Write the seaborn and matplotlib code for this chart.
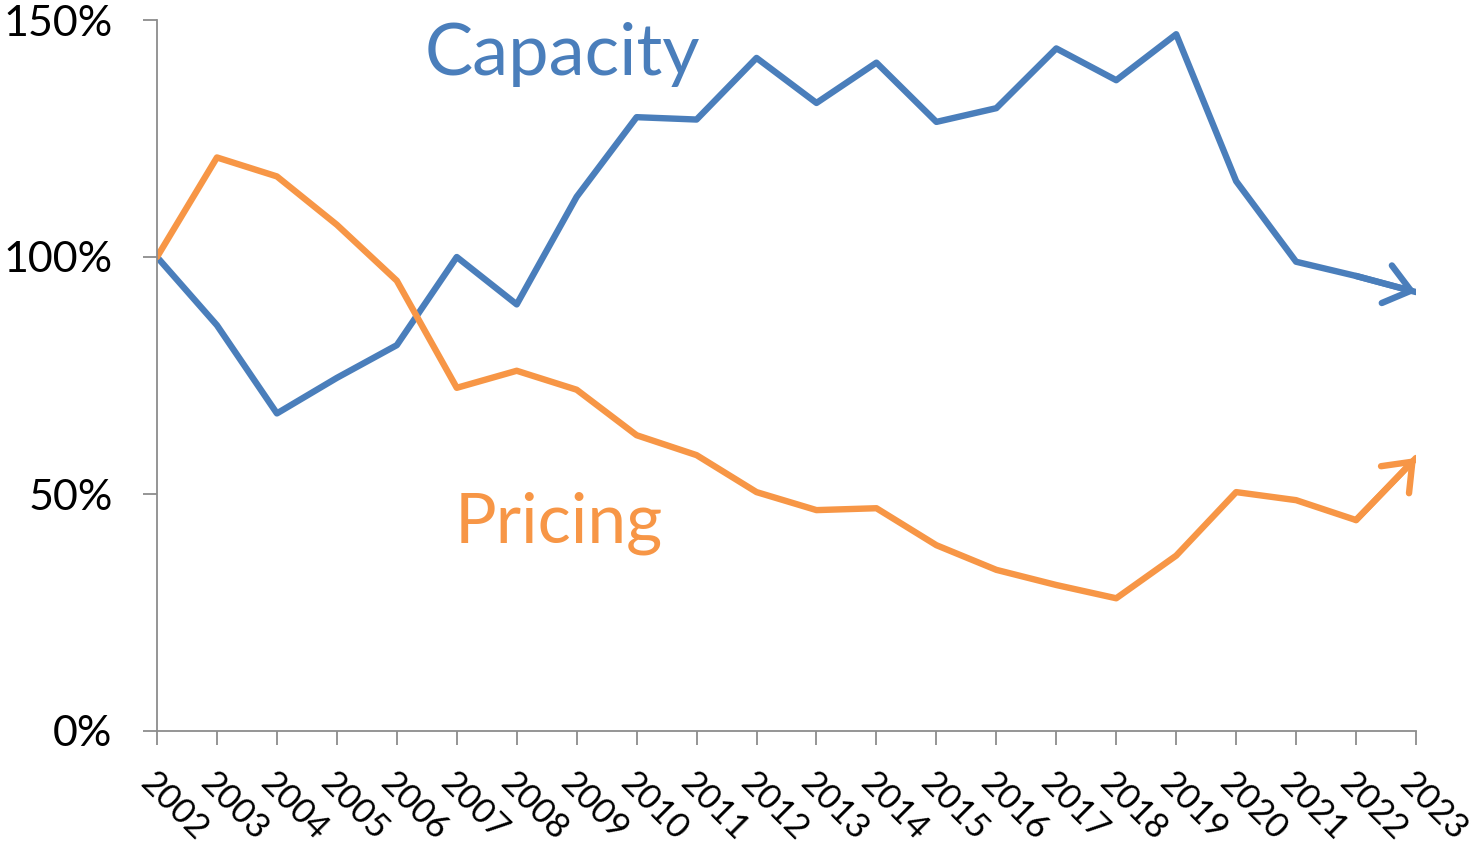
import matplotlib
matplotlib.use("Agg")
import matplotlib.pyplot as plt
import seaborn as sns
import pandas as pd

years = list(range(2002, 2024))
capacity = [100, 85.6, 67, 74.5, 81.4, 100, 90, 112.7, 129.5, 129, 142, 132.5,
            141, 128.5, 131.4, 144, 137.3, 147, 116, 99, 96, 92.6]
pricing = [100, 121, 117, 106.8, 95, 72.4, 76, 72, 62.4, 58.2, 50.4, 46.6,
           47, 39.2, 34, 30.8, 28, 37, 50.4, 48.7, 44.5, 57.6]
y_ticks = [0, 50, 100, 150]
y_tick_labels = ["0%", "50%", "100%", "150%"]

BLUE = "#4A7EBB"
ORANGE = "#F79646"
AXIS = "#8C8C8C"

sns.set_theme(style="white")
plt.rcParams["font.family"] = ["Lato", "DejaVu Sans"]

df = pd.DataFrame({"year": years, "Capacity": capacity, "Pricing": pricing})

fig = plt.figure(figsize=(14.8, 8.5), dpi=100)
ax = fig.add_axes([157 / 1480, 1 - 731 / 850, (1416 - 157) / 1480, (731 - 20) / 850])

sns.lineplot(data=df, x="year", y="Capacity", ax=ax, color=BLUE, linewidth=4.6,
             solid_capstyle="round", solid_joinstyle="round")
sns.lineplot(data=df, x="year", y="Pricing", ax=ax, color=ORANGE, linewidth=4.6,
             solid_capstyle="round", solid_joinstyle="round")

# arrowheads at the end of each series
for series, col in ((capacity, BLUE), (pricing, ORANGE)):
    ax.annotate("", xy=(years[-1], series[-1]), xytext=(years[-2], series[-2]),
                arrowprops=dict(arrowstyle="->,head_length=0.45,head_width=0.35",
                                lw=4.6, color=col, mutation_scale=40,
                                shrinkA=0, shrinkB=0, capstyle="round",
                                joinstyle="miter"),
                annotation_clip=False)

ax.set_xlim(years[0], years[-1])
ax.set_ylim(0, 150)
ax.set_xticks(years)
ax.set_xticklabels([str(y) for y in years], rotation=-45, ha="left", va="top",
                   rotation_mode="anchor", fontsize=25)
ax.set_yticks(y_ticks)
ax.set_yticklabels(y_tick_labels, fontsize=31)
ax.set_xlabel("")
ax.set_ylabel("")

for s in ["top", "right"]:
    ax.spines[s].set_visible(False)
for s in ["left", "bottom"]:
    ax.spines[s].set_color(AXIS)
    ax.spines[s].set_linewidth(1.3)
ax.tick_params(axis="y", which="major", direction="out", length=10, width=1.3,
               color=AXIS, left=True, pad=22, labelcolor="black")
ax.tick_params(axis="x", which="major", direction="out", length=10, width=1.3,
               color=AXIS, bottom=True, pad=16, labelcolor="black")

ax.text(2006.47, 138.4, "Capacity", color=BLUE, fontsize=52, ha="left",
        va="baseline")
ax.text(2006.97, 39.7, "Pricing", color=ORANGE, fontsize=50, ha="left",
        va="baseline")

fig.savefig("out.png", dpi=100, facecolor="white")
